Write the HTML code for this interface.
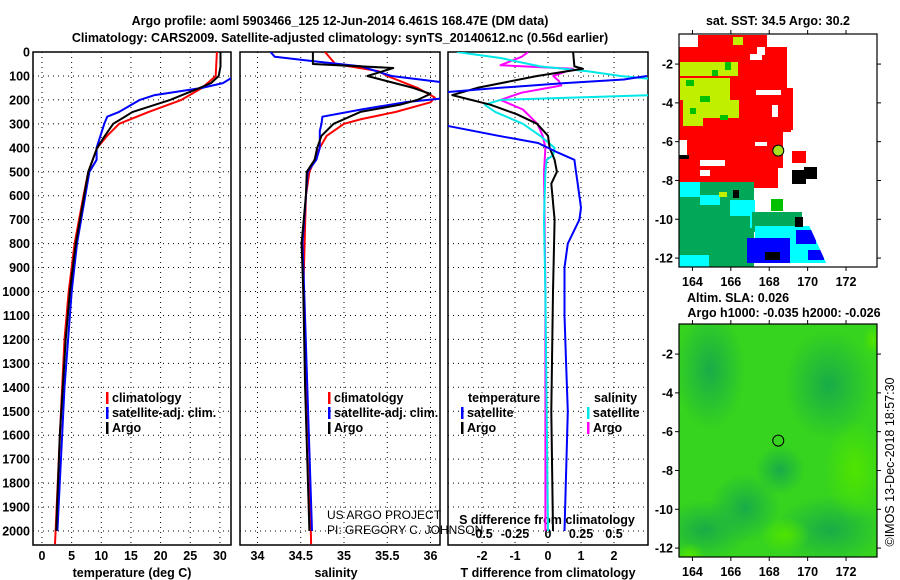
<!DOCTYPE html>
<html><head><meta charset="utf-8"><style>
html,body{margin:0;padding:0;background:#fff;}
svg{display:block;font-family:"Liberation Sans",Arial,sans-serif;}
.b{font-weight:bold;font-size:12.5px;}
</style></head><body>
<svg id="c" width="900" height="580" viewBox="0 0 900 580" xmlns="http://www.w3.org/2000/svg">
<defs>
<clipPath id="cp1"><rect x="33" y="52" width="198" height="493"/></clipPath>
<clipPath id="cp2"><rect x="240" y="52" width="200" height="493"/></clipPath>
<clipPath id="cp3"><rect x="448" y="52" width="200" height="493"/></clipPath>
<clipPath id="cm1"><rect x="679" y="34" width="198" height="233"/></clipPath>
<clipPath id="cm2"><rect x="679" y="324" width="198" height="233"/></clipPath>
<radialGradient id="g1" cx="0.5" cy="0.5" r="0.5"><stop offset="0" stop-color="#18ac48"/><stop offset="1" stop-color="#18ac48" stop-opacity="0"/></radialGradient>
<radialGradient id="g2" cx="0.5" cy="0.5" r="0.5"><stop offset="0" stop-color="#50e400"/><stop offset="1" stop-color="#50e400" stop-opacity="0"/></radialGradient>
</defs>
<text class="b" x="340" y="25" text-anchor="middle" font-size="13">Argo profile: aoml 5903466_125 12-Jun-2014 6.461S 168.47E (DM data)</text>
<text class="b" x="340" y="42" text-anchor="middle" font-size="13">Climatology: CARS2009. Satellite-adjusted climatology: synTS_20140612.nc (0.56d earlier)</text>
<g id="axes"></g>
<g id="maps"></g>
</svg>
<script>
// ---- data (pressure in dbar) ----
const tArgoP=[0,60,100,130,150,200,250,300,350,400,500,600,700,800,900,1000,1200,1400,1600,1800,2000];
const tArgoV=[30.1,30.1,29.8,28.5,26.6,21.6,15.3,12.0,10.6,9.3,7.8,7.1,6.4,5.7,5.2,4.7,4.0,3.5,3.0,2.7,2.4];
const tClimP=[0,100,150,200,250,300,350,400,500,600,800,1000,1200,1500,2000,2055];
const tClimV=[29.5,29.3,27.0,23.5,18.0,13.0,11.0,9.3,7.8,7.0,5.5,4.5,3.8,3.2,2.3,2.2];
const tSatP=[100,130,150,180,200,250,270,300,400,450,500,600,800,1000,1400,2000];
const tSatV=[32.5,30.5,27.0,19.0,16.5,13.0,11.0,10.5,9.2,9.2,8.0,7.3,5.9,5.0,3.8,2.6];
const sArgoP=[0,50,67,100,150,175,200,220,250,300,350,400,450,500,600,800,1000,1400,2000];
const sArgoV=[34.64,34.64,35.57,35.27,35.8,36.0,35.85,35.65,35.19,34.88,34.74,34.69,34.66,34.57,34.56,34.51,34.53,34.55,34.6];
const sClimP=[0,50,80,100,150,190,210,250,280,300,350,400,500,600,1000,1700,2055];
const sClimV=[34.78,34.9,35.4,35.5,35.85,36.05,36.0,35.6,35.2,35.0,34.8,34.72,34.6,34.56,34.53,34.6,34.62];
const sSatP=[0,20,40,60,100,125,150,195,210,240,270,300,330,400,450,500,800,1000,2000];
const sSatV=[34.15,34.2,34.69,35.2,35.55,36.1,36.3,36.1,35.7,35.2,34.75,34.74,34.72,34.72,34.68,34.58,34.52,34.54,34.63];
const dTArgoP=[0,60,70,100,150,180,220,260,300,350,400,450,500,550,700,1000,1500,2000];
const dTArgoV=[0.76,0.8,1.06,-0.33,-2.15,-2.9,-1.75,-0.94,-0.33,0,0.05,0.2,0.27,0.1,0.2,0.15,0.1,0.15];
const dTSatP=[100,115,130,150,170,220,280,310,350,380,420,450,500,550,650,700,800,900,1100,1300,1500,2000];
const dTSatV=[3.0,2.3,0.5,-1.5,-3.3,-3.3,-3.3,-3.0,-1.5,-0.3,0.3,0.8,0.85,0.9,1.0,0.95,0.6,0.5,0.5,0.55,0.6,0.5];
const dSSatP=[0,25,60,80,100,120,180,200,220,250,300,350,400,430,450,500,700,1000,1500,2000];
const dSSatV=[-0.69,-0.36,-0.06,0.3,0.55,0.92,0.8,-0.36,-0.48,-0.4,-0.19,-0.06,0.05,0.04,-0.01,-0.02,-0.03,-0.02,-0.01,0.0];
const dSArgoP=[0,20,55,70,100,120,140,170,200,240,300,350,400,500,1000,2000];
const dSArgoV=[-0.15,-0.2,-0.36,0.19,0.04,0.08,0.1,-0.2,-0.36,-0.19,-0.08,-0.04,-0.02,-0.03,-0.02,-0.02];
const presTicks=[0,100,200,300,400,500,600,700,800,900,1000,1100,1200,1300,1400,1500,1600,1700,1800,1900,2000];
const tTicks=[0,5,10,15,20,25,30];
const sTicks=[34,34.5,35,35.5,36];
const dTTicks=[-2,-1,0,1,2];
const dSTicks=[-0.5,-0.25,0,0.25,0.5];
const lonTicks=[164,166,168,170,172];
const latTicks=[-2,-4,-6,-8,-10,-12];
const argoLon=168.47, argoLat=-6.461;

const NS="http://www.w3.org/2000/svg";
const axes=document.getElementById('axes');
const maps=document.getElementById('maps');
function mk(tag,attrs,parent){const e=document.createElementNS(NS,tag);for(const k in attrs)e.setAttribute(k,attrs[k]);(parent||axes).appendChild(e);return e;}
const yP=p=>52+p*0.2395;
const xT=t=>42+t*5.93;
const xS=s=>257.5+(s-34)*86.5;
const xDT=d=>548+d*33;
const xDS=d=>548+d*132;
const panels=[{x:33,w:198,n:'temperature'},{x:240,w:200,n:'salinity'},{x:448,w:200,n:'difference'}];
panels.forEach((pn,i)=>{
  const g=mk('g',{});
  
  
  presTicks.forEach(p=>{
    const l=mk('line',{x1:pn.x,x2:pn.x+pn.w,y1:yP(p),y2:yP(p),stroke:'#000','stroke-width':1,'stroke-dasharray':'1,4'},g);
    
    
  });
  const xt=i==0?tTicks.map(xT):i==1?sTicks.map(xS):dTTicks.map(xDT);
  xt.forEach(x=>{
    const l=mk('line',{x1:x,x2:x,y1:52,y2:545,stroke:'#000','stroke-width':1,'stroke-dasharray':'1,4'},g);
    
    
  });
  const r=mk('rect',{x:pn.x,y:52,width:pn.w,height:493,fill:'none',stroke:'#000','stroke-width':1.5},g);
  
  
});
presTicks.forEach(p=>{
  const t=mk('text',{x:30,y:yP(p)+4.5,'text-anchor':'end','class':'b'});
  
  
  t.textContent=p;
});
function xlab(arr,f,y){arr.forEach(v=>{const t=mk('text',{x:f(v),y:y,'text-anchor':'middle','class':'b'});
  
  
  t.textContent=v;});}
xlab(tTicks,xT,560);xlab(sTicks,xS,560);xlab(dTTicks,xDT,560);
xlab(dSTicks,xDS,538);
function txt(s,x,y,name,extra,parent){const t=mk('text',Object.assign({x:x,y:y,'class':'b'},extra||{}),parent);
  
  
  t.textContent=s;return t;}
txt('temperature (deg C)',132,577,'x-axis-title-temperature',{'text-anchor':'middle'});
txt('salinity',336,577,'x-axis-title-salinity',{'text-anchor':'middle'});
txt('T difference from climatology',548,577,'x-axis-title-t-difference',{'text-anchor':'middle'});
txt('S difference from climatology',547,524,'s-axis-title',{'text-anchor':'middle'});
const u1=txt('US ARGO PROJECT',327,519,'credit-project');u1.removeAttribute('class');u1.setAttribute('font-size','12');
const u2=txt('PI: GREGORY C. JOHNSON',327,534,'credit-pi');u2.removeAttribute('class');u2.setAttribute('font-size','12');
function line(P,V,fx,col,cp,name,w){
  const d=P.map((p,i)=>(i?'L':'M')+fx(V[i]).toFixed(1)+','+yP(p).toFixed(1)).join('');
  const e=mk('path',{d:d,fill:'none',stroke:col,'stroke-width':w||2,'clip-path':'url(#'+cp+')','stroke-linejoin':'round'});
  
  
}
line(tClimP,tClimV,xT,'#ff0000','cp1','temp-climatology-line');
line(tSatP,tSatV,xT,'#0000ff','cp1','temp-satellite-line');
line(tArgoP,tArgoV,xT,'#000','cp1','temp-argo-line');
line(sClimP,sClimV,xS,'#ff0000','cp2','salinity-climatology-line');
line(sSatP,sSatV,xS,'#0000ff','cp2','salinity-satellite-line');
line(sArgoP,sArgoV,xS,'#000','cp2','salinity-argo-line');
line(dSArgoP,dSArgoV,xDS,'#ff00ff','cp3','s-diff-argo-line');
line(dSSatP,dSSatV,xDS,'#00e8e8','cp3','s-diff-satellite-line');
line(dTArgoP,dTArgoV,xDT,'#000','cp3','t-diff-argo-line');
line(dTSatP,dTSatV,xDT,'#0000ff','cp3','t-diff-satellite-line');
function leg(x,y,col,s,name){
  const r=mk('rect',{x:x,y:y-10,width:2.5,height:12,fill:col});
  
  
  txt(s,x+6,y,name);
}
leg(106,402,'#ff0000','climatology','legend-temp-climatology');
leg(106,417,'#0000ff','satellite-adj. clim.','legend-temp-satellite');
leg(106,432,'#000','Argo','legend-temp-argo');
leg(328,402,'#ff0000','climatology','legend-sal-climatology');
leg(328,417,'#0000ff','satellite-adj. clim.','legend-sal-satellite');
leg(328,432,'#000','Argo','legend-sal-argo');
txt('temperature',468,402,'legend-diff-temperature-header');
leg(461,417,'#0000ff','satellite','legend-diff-t-satellite');
leg(461,432,'#000','Argo','legend-diff-t-argo');
txt('salinity',594,402,'legend-diff-salinity-header');
leg(587,417,'#00e8e8','satellite','legend-diff-s-satellite');
leg(587,432,'#ff00ff','Argo','legend-diff-s-argo');

// ---- maps ----
const mx=lon=>679+(lon-163.3)*19.2;
function drawMapFrame(top,name){
  const r=mk('rect',{x:679,y:top,width:198,height:233,fill:'none',stroke:'#000','stroke-width':1.2},maps);
  
  
  const my=lat=>top+(-lat-0.45)*19.4;
  lonTicks.forEach(l=>{
    mk('line',{x1:mx(l),x2:mx(l),y1:top,y2:top-4,stroke:'#000'},maps);
    mk('line',{x1:mx(l),x2:mx(l),y1:top+233,y2:top+237,stroke:'#000'},maps);
    const t=mk('text',{x:mx(l),y:top+252,'text-anchor':'middle','class':'b'},maps);
    
    
    t.textContent=l;
  });
  latTicks.forEach(l=>{
    mk('line',{x1:679,x2:675,y1:my(l),y2:my(l),stroke:'#000'},maps);
    mk('line',{x1:877,x2:881,y1:my(l),y2:my(l),stroke:'#000'},maps);
    const t=mk('text',{x:673,y:my(l)+4.5,'text-anchor':'end','class':'b'},maps);
    
    
    t.textContent=l;
  });
  const c=mk('circle',{cx:mx(argoLon),cy:my(argoLat),r:5.5,fill:name=='sst-map'?'#a8e020':'none',stroke:'#000','stroke-width':1},maps);
  
  
}
const g1=mk('g',{'clip-path':'url(#cm1)'},maps);


const blocks=[
['#ff0000',698,35,69,18],['#ff0000',679,47,108,45],['#ff0000',679,88,114,42],['#ff0000',679,128,104,40],['#ff0000',679,165,99,28],['#ff0000',713,190,39,17],['#ff0000',779,120,12,12],['#ff0000',792,151,14,12],
['#ffffff',679,35,19,12],['#ffffff',750,54,12,6],['#ffffff',756,90,25,5],['#ffffff',679,140,8,15],['#ffffff',700,160,25,6],['#ffffff',755,142,12,4],['#ffffff',740,188,40,10],['#ffffff',767,35,20,12],['#ffffff',757,47,8,8],['#ffffff',700,170,10,6],['#ffffff',772,105,6,12],
['#c0f000',680,62,58,14],['#c0f000',680,78,50,22],['#00c000',686,80,8,6],['#c0f000',683,100,56,18],['#00c000',700,96,10,6],['#00c000',720,115,8,5],['#c0f000',683,116,20,10],['#c0f000',733,37,10,8],['#00c000',725,62,6,8],['#00c000',690,108,6,6],['#00c000',712,70,6,6],
['#000000',792,170,14,14],['#000000',804,167,13,12],['#000000',679,155,10,4],
['#00a858',679,182,75,85],['#00ffff',680,182,20,15],['#00ffff',700,195,20,10],['#00ffff',730,200,25,16],['#00ffff',750,216,20,12],
['#00a858',752,212,50,20],['#00ffff',755,226,70,12],['#0000ff',747,238,55,25],['#00ffff',790,238,38,25],['#0000ff',796,230,20,14],['#0000ff',808,250,16,10],
['#00c000',771,199,12,12],['#000000',795,217,8,10],['#000000',765,252,15,8],['#00ffff',679,255,30,12],['#c0f000',719,192,8,5],['#000000',733,190,6,8]];
blocks.forEach(b=>{const r=mk('rect',{x:b[1],y:b[2],width:b[3],height:b[4],fill:b[0]},g1);
  
  });
const cut=mk('polygon',{points:'803,212 830,212 830,267 828,267',fill:'#fff'},g1);


drawMapFrame(34,'sst-map');
txt('sat. SST: 34.5 Argo: 30.2',778,25,'sst-map-title',{'text-anchor':'middle'});
const g2=mk('g',{'clip-path':'url(#cm2)'},maps);


mk('rect',{x:679,y:324,width:198,height:233,fill:'#36d41e'},g2);
[[710,370,35,60],[829,385,45,55],[745,508,35,35],[705,530,45,30],[830,530,55,35],[780,470,25,25]].forEach(e=>mk('ellipse',{cx:e[0],cy:e[1],rx:e[2],ry:e[3],fill:'url(#g1)'},g2));
[[855,470,30,50],[785,535,25,18],[690,555,15,12],[873,340,10,15]].forEach(e=>mk('ellipse',{cx:e[0],cy:e[1],rx:e[2],ry:e[3],fill:'url(#g2)'},g2));
drawMapFrame(324,'sla-map');
txt('Altim. SLA: 0.026',738,302,'sla-map-title-1',{'text-anchor':'middle'});
txt('Argo h1000: -0.035 h2000: -0.026',784,317,'sla-map-title-2',{'text-anchor':'middle'});
const cr=txt('©IMOS 13-Dec-2018 18:57:30',894,462,'timestamp-credit',{'text-anchor':'middle',transform:'rotate(-90 894 462)'});
cr.removeAttribute('class');cr.setAttribute('font-size','12.5');
</script>
</body></html>
